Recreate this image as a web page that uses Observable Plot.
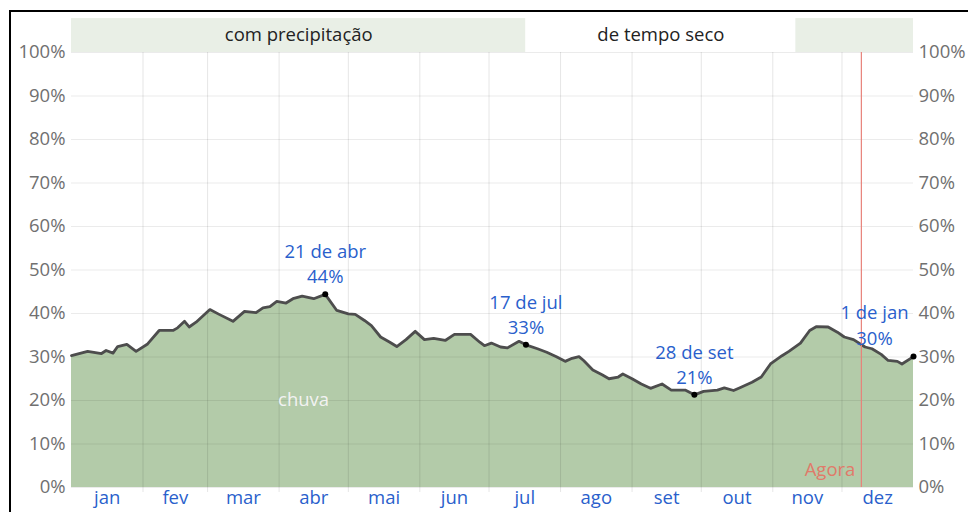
<!DOCTYPE html>
<html><head><meta charset="utf-8">
<script src="https://cdn.jsdelivr.net/npm/d3@7"></script>
<script src="https://cdn.jsdelivr.net/npm/@observablehq/plot@0.6"></script>
<style>
html,body{margin:0;padding:0;background:#fff;}
#wrap{position:relative;width:968px;height:512px;overflow:hidden;}
#wrap svg{position:absolute;left:0;top:0;}
#frame{position:absolute;left:9px;top:10px;width:2000px;height:2000px;border-left:2px solid #000;border-top:2px solid #000;pointer-events:none;}
</style></head><body><div id="wrap"><div id="frame"></div></div>
<script>
// Day-of-year (0 = 1 jan, 365 = 1 jan next year) and chance of precipitation (%)
const days = [0,7,13,15,18,20,24,28,33,38,44,46,49,51,54,60,64,70,75,80,83,86,89,93,96,100,105,110,115,120,123,127,130,134,138,141,145,149,153,157,162,166,173,177,179,182,186,189,194,197,202,206,210,214,217,220,222,226,230,233,237,239,243,247,251,256,260,266,270,274,280,283,287,290,295,299,303,308,311,316,320,323,328,332,335,339,344,347,351,354,358,360,365];
const rain = [30.3,31.3,30.8,31.5,30.9,32.4,32.9,31.3,33.0,36.1,36.1,36.7,38.2,36.9,38.0,40.9,39.8,38.2,40.5,40.2,41.3,41.6,42.8,42.4,43.4,44.0,43.4,44.4,40.7,39.9,39.8,38.4,37.2,34.6,33.4,32.4,34.0,35.9,34.0,34.3,33.8,35.2,35.2,33.4,32.6,33.2,32.3,32.1,33.6,32.8,31.9,31.1,30.1,29.0,29.7,30.1,29.2,27.0,25.9,25.0,25.4,26.1,25.0,23.8,22.8,23.8,22.4,22.4,21.3,22.1,22.4,22.9,22.3,23.0,24.2,25.4,28.4,30.3,31.3,33.2,36.1,37.0,36.9,35.7,34.6,34.0,32.3,31.9,30.6,29.2,29.0,28.4,30.1];

const monthNames = ["jan","fev","mar","abr","mai","jun","jul","ago","set","out","nov","dez"];
const monthStarts = [0,31,59,90,120,151,181,212,243,273,304,334,365];
const yTicks = [0,0.1,0.2,0.3,0.4,0.5,0.6,0.7,0.8,0.9,1];

const bandStart = [0,197,314];
const bandEnd = [197,314,365];
const bandLabels = ["com precipitação","de tempo seco",""];
const bandFill = ["#e9efe6","#ffffff","#e9efe6"];

const annDays = [110,197,270,365];
const annLabels = ["21 de abr","17 de jul","28 de set","1 de jan"];
const annPct = ["44%","33%","21%","30%"];

const nowDay = 342.4;

const data = days.map((d,i)=>({day:d, v:rain[i]/100}));
const bands = bandStart.map((s,i)=>({x1:s,x2:bandEnd[i],label:bandLabels[i],fill:bandFill[i],mid:(s+bandEnd[i])/2}));
const monthMids = monthNames.map((m,i)=>(monthStarts[i]+monthStarts[i+1])/2);
const ann = annDays.map((d,i)=>{
  const r = data.find(p=>p.day===d);
  return {day:d, v:r.v, text:annLabels[i]+"\n"+annPct[i]};
});

const font = "'Open Sans', 'Noto Sans', sans-serif";
const blue = "#2a5fcc";
const fs = 18.5;

const chart = Plot.plot({
  width: 968, height: 512,
  marginLeft: 71, marginRight: 55, marginTop: 52, marginBottom: 25,
  style: {fontFamily: font, fontSize: fs+"px", background: "transparent", overflow: "visible"},
  x: {domain: [0,365]},
  y: {domain: [0,1]},
  marks: [
    Plot.rect(bands, {x1:"x1", x2:"x2", y1:1, y2:1.078, fill:"fill"}),
    Plot.text(bands, {x:"mid", y:1.039, text:"label", fill:"#222", fontSize:fs}),
    Plot.areaY(data, {x:"day", y:"v", fill:"#b3cba9"}),
    Plot.ruleY(yTicks, {stroke:"#000", strokeOpacity:0.08}),
    Plot.ruleX(monthStarts.slice(1,12), {y1:0, y2:1, stroke:"#000", strokeOpacity:0.1}),
    Plot.axisX(monthStarts.slice(1,12), {tickSize:5, stroke:"#000", strokeOpacity:0.1, text:null, label:null}),
    Plot.axisX(monthMids, {tickSize:0, tickPadding:3, tickFormat:(d,i)=>monthNames[i], fill:blue, fontSize:fs, label:null}),
    Plot.axisY(yTicks, {anchor:"left", tickSize:0, tickPadding:6, tickFormat:d=>Math.round(d*100)+"%", fill:"#707070", fontSize:fs, label:null}),
    Plot.axisY(yTicks, {anchor:"right", tickSize:0, tickPadding:5, tickFormat:d=>Math.round(d*100)+"%", fill:"#707070", fontSize:fs, label:null}),
    Plot.line(data, {x:"day", y:"v", stroke:"#4d4d4d", strokeWidth:2.8, curve:"linear"}),
    Plot.ruleX([nowDay], {y1:0, y2:1, stroke:"#e8827a", strokeWidth:1.2}),
    Plot.text(["Agora"], {x:nowDay, y:0.039, text:d=>d, textAnchor:"end", dx:-6, fill:"#e07a6a", fontSize:fs}),
    Plot.text(["chuva"], {x:100.6, y:0.202, text:d=>d, fill:"#f2f2f2", fontSize:fs}),
    Plot.dot(ann, {x:"day", y:"v", r:3, fill:"#000"}),
    Plot.text(ann.slice(0,3), {x:"day", y:"v", text:"text", dy:-11, lineAnchor:"bottom", lineHeight:1.36, fill:blue, fontSize:fs}),
    Plot.text(ann.slice(3), {x:"day", y:"v", text:"text", dx:-39, dy:-12, lineAnchor:"bottom", lineHeight:1.36, fill:blue, fontSize:fs})
  ]
});
document.getElementById("wrap").insertBefore(chart, document.getElementById("frame"));
</script>
</body></html>
